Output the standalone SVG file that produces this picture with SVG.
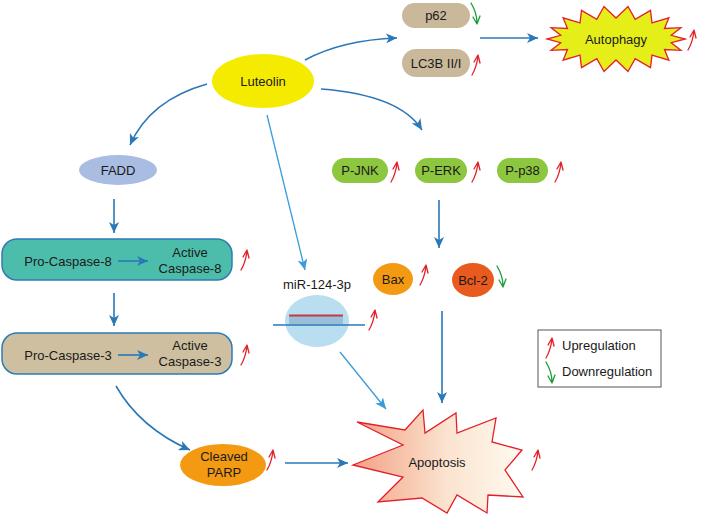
<svg xmlns="http://www.w3.org/2000/svg" width="701" height="515" viewBox="0 0 701 515">
<style>
text{font-family:"Liberation Sans",Arial,sans-serif;font-size:13px;fill:#1a1a1a;text-anchor:middle}
.c{fill:none;stroke:#2a78b8;stroke-width:1.6;marker-end:url(#ah)}
.cl{fill:none;stroke:#3a9bd8;stroke-width:1.3;marker-end:url(#ah2)}
.pill{fill:#c9b99a}
.grn{fill:#8dc63f}
.up{fill:none;stroke:#e3202a;stroke-width:1.3;stroke-linecap:round;stroke-linejoin:round}
.dn{fill:none;stroke:#1d9a3c;stroke-width:1.3;stroke-linecap:round;stroke-linejoin:round}
.box{stroke:#2e7bb5;stroke-width:1.5}
</style>
<defs>
<marker id="ah" markerUnits="userSpaceOnUse" markerWidth="12" markerHeight="10" refX="11" refY="5" orient="auto"><path d="M0,0 L11,5 L0,10 L3,5 z" fill="#2a78b8"/></marker>
<marker id="ah2" markerUnits="userSpaceOnUse" markerWidth="12" markerHeight="10" refX="11" refY="5" orient="auto"><path d="M0,0 L11,5 L0,10 L3,5 z" fill="#3a9bd8"/></marker>
<linearGradient id="apg" x1="0" y1="0" x2="1" y2="0"><stop offset="0" stop-color="#f2a084"/><stop offset="0.55" stop-color="#fbe3cf"/><stop offset="1" stop-color="#fffaf0"/></linearGradient>
<g id="up"><path class="up" d="M0,20 C3,15 5,9 6,1 M2,7 L6,0 L8,8"/></g>
<g id="dn"><path class="dn" d="M0,0 C3,5 6,11 6,20 M2,14 L6,21 L9,13"/></g>
</defs>

<g id="connectors">
<path class="c" d="M207,84 Q150,100 130,145"/>
<path class="c" d="M305,60 Q342,40 397,38"/>
<path class="c" d="M321,89 Q400,95 422,130"/>
<path class="cl" d="M267,115 L305,270"/>
<path class="c" d="M114,199 L114,233"/>
<path class="c" d="M114,293 L114,326"/>
<path class="c" d="M116,386 Q140,428 190,450"/>
<path class="c" d="M285,463 L348,463"/>
<path class="cl" d="M340,352 L386,409"/>
<path class="c" d="M439,200 L439,248"/>
<path class="c" d="M442,311 L442,403"/>
<path class="c" d="M480,38 L538,38"/>
</g>

<g id="luteolin"><ellipse cx="263" cy="81" rx="51" ry="27" fill="#f5eb00"/><text x="263" y="86">Luteolin</text></g>

<g id="p62"><rect class="pill" x="402" y="3" width="68" height="25" rx="12.5"/><text x="436" y="20">p62</text><use href="#dn" x="471" y="3"/></g>
<g id="lc3b"><rect class="pill" x="402" y="49" width="68" height="28" rx="14"/><text x="436" y="68">LC3B II/I</text><use href="#up" x="472" y="55"/></g>

<g id="autophagy">
<polygon points="685,39 671.2,42.7 680.9,50.3 664.5,49.5 668.9,60.2 652,55.1 650.5,67.6 635.2,58.7 628,71.5 616,60 604,71.5 596.8,58.7 581.5,67.6 580,55.1 563.1,60.2 567.5,49.5 551.1,50.3 560.8,42.7 547,39 560.8,35.3 551.1,27.7 567.5,28.5 563.1,17.8 580,22.9 581.5,10.4 596.8,19.3 604,6.5 616,18 628,6.5 635.2,19.3 650.5,10.4 652,22.9 668.9,17.8 664.5,28.5 680.9,27.7 671.2,35.3" fill="#e6ee1a" stroke="#e3202a" stroke-width="1.3" stroke-linejoin="miter"/>
<text x="616" y="44">Autophagy</text>
<use href="#up" x="688" y="30"/>
</g>

<g id="fadd"><ellipse cx="118" cy="170" rx="39" ry="15" fill="#a9bde2"/><text x="118" y="175">FADD</text></g>

<g id="pjnk"><rect class="grn" x="332" y="158" width="56" height="25" rx="12.5"/><text x="360" y="175">P-JNK</text><use href="#up" x="391" y="162"/></g>
<g id="perk"><rect class="grn" x="415" y="158" width="52" height="25" rx="12.5"/><text x="441" y="175">P-ERK</text><use href="#up" x="472" y="162"/></g>
<g id="pp38"><rect class="grn" x="497" y="158" width="51" height="25" rx="12.5"/><text x="522.5" y="175">P-p38</text><use href="#up" x="555" y="162"/></g>

<g id="caspase8">
<rect class="box" x="2" y="239" width="230" height="41" rx="15" fill="#4dbdab"/>
<text x="68" y="266">Pro-Caspase-8</text>
<path class="c" d="M118,261 L148,261"/>
<text x="190" y="257">Active</text>
<text x="190" y="273">Caspase-8</text>
<use href="#up" x="241" y="250"/>
</g>

<g id="caspase3">
<rect class="box" x="2" y="333" width="230" height="41" rx="15" fill="#cdbf9f"/>
<text x="68" y="360">Pro-Caspase-3</text>
<path class="c" d="M118,355 L148,355"/>
<text x="190" y="350">Active</text>
<text x="190" y="366">Caspase-3</text>
<use href="#up" x="241" y="345"/>
</g>

<g id="mir">
<text x="317" y="289">miR-124-3p</text>
<ellipse cx="317" cy="321" rx="32" ry="26" fill="#b8def0"/>
<path d="M290,316 V324 M292,316 V324 M294,316 V324 M296,316 V324 M298,316 V324 M300,316 V324 M302,316 V324 M304,316 V324 M306,316 V324 M308,316 V324 M310,316 V324 M312,316 V324 M314,316 V324 M316,316 V324 M318,316 V324 M320,316 V324 M322,316 V324 M324,316 V324 M326,316 V324 M328,316 V324 M330,316 V324 M332,316 V324 M334,316 V324 M336,316 V324 M338,316 V324 M340,316 V324 M342,316 V324" stroke="#7d9fbf" stroke-width="1"/>
<path d="M289,315.5 H343" stroke="#c23a4a" stroke-width="1.8"/>
<path d="M273,325 H365" stroke="#2a78b8" stroke-width="1.5"/>
<use href="#up" x="369" y="310"/>
</g>

<g id="bax"><ellipse cx="393" cy="279" rx="20" ry="16" fill="#f39a12"/><text x="393" y="284">Bax</text><use href="#up" x="420" y="265"/></g>
<g id="bcl2"><ellipse cx="473" cy="280" rx="21" ry="17" fill="#e85a1e"/><text x="473" y="285">Bcl-2</text><use href="#dn" x="497" y="266"/></g>

<g id="parp"><ellipse cx="223" cy="465" rx="43" ry="21" fill="#f39a12"/><text x="224" y="461">Cleaved</text><text x="224" y="477">PARP</text><use href="#up" x="267" y="450"/></g>

<g id="apoptosis">
<polygon points="357,422 405,430 423,410 425,433 456,413 457,433 496,418 492,442 522,450 505,470 523,497 488,495 487,513 457,495 447,513 422,498 378,502 403,477 353,465 403,445" fill="url(#apg)" stroke="#e3202a" stroke-width="1.3"/>
<text x="437" y="467">Apoptosis</text>
<use href="#up" x="532" y="450"/>
</g>

<g id="legend">
<rect x="538" y="330" width="123" height="57" fill="#fff" stroke="#555" stroke-width="1"/>
<use href="#up" x="546" y="338"/>
<text x="562" y="350" style="text-anchor:start">Upregulation</text>
<use href="#dn" x="546" y="362"/>
<text x="562" y="376" style="text-anchor:start">Downregulation</text>
</g>
</svg>
